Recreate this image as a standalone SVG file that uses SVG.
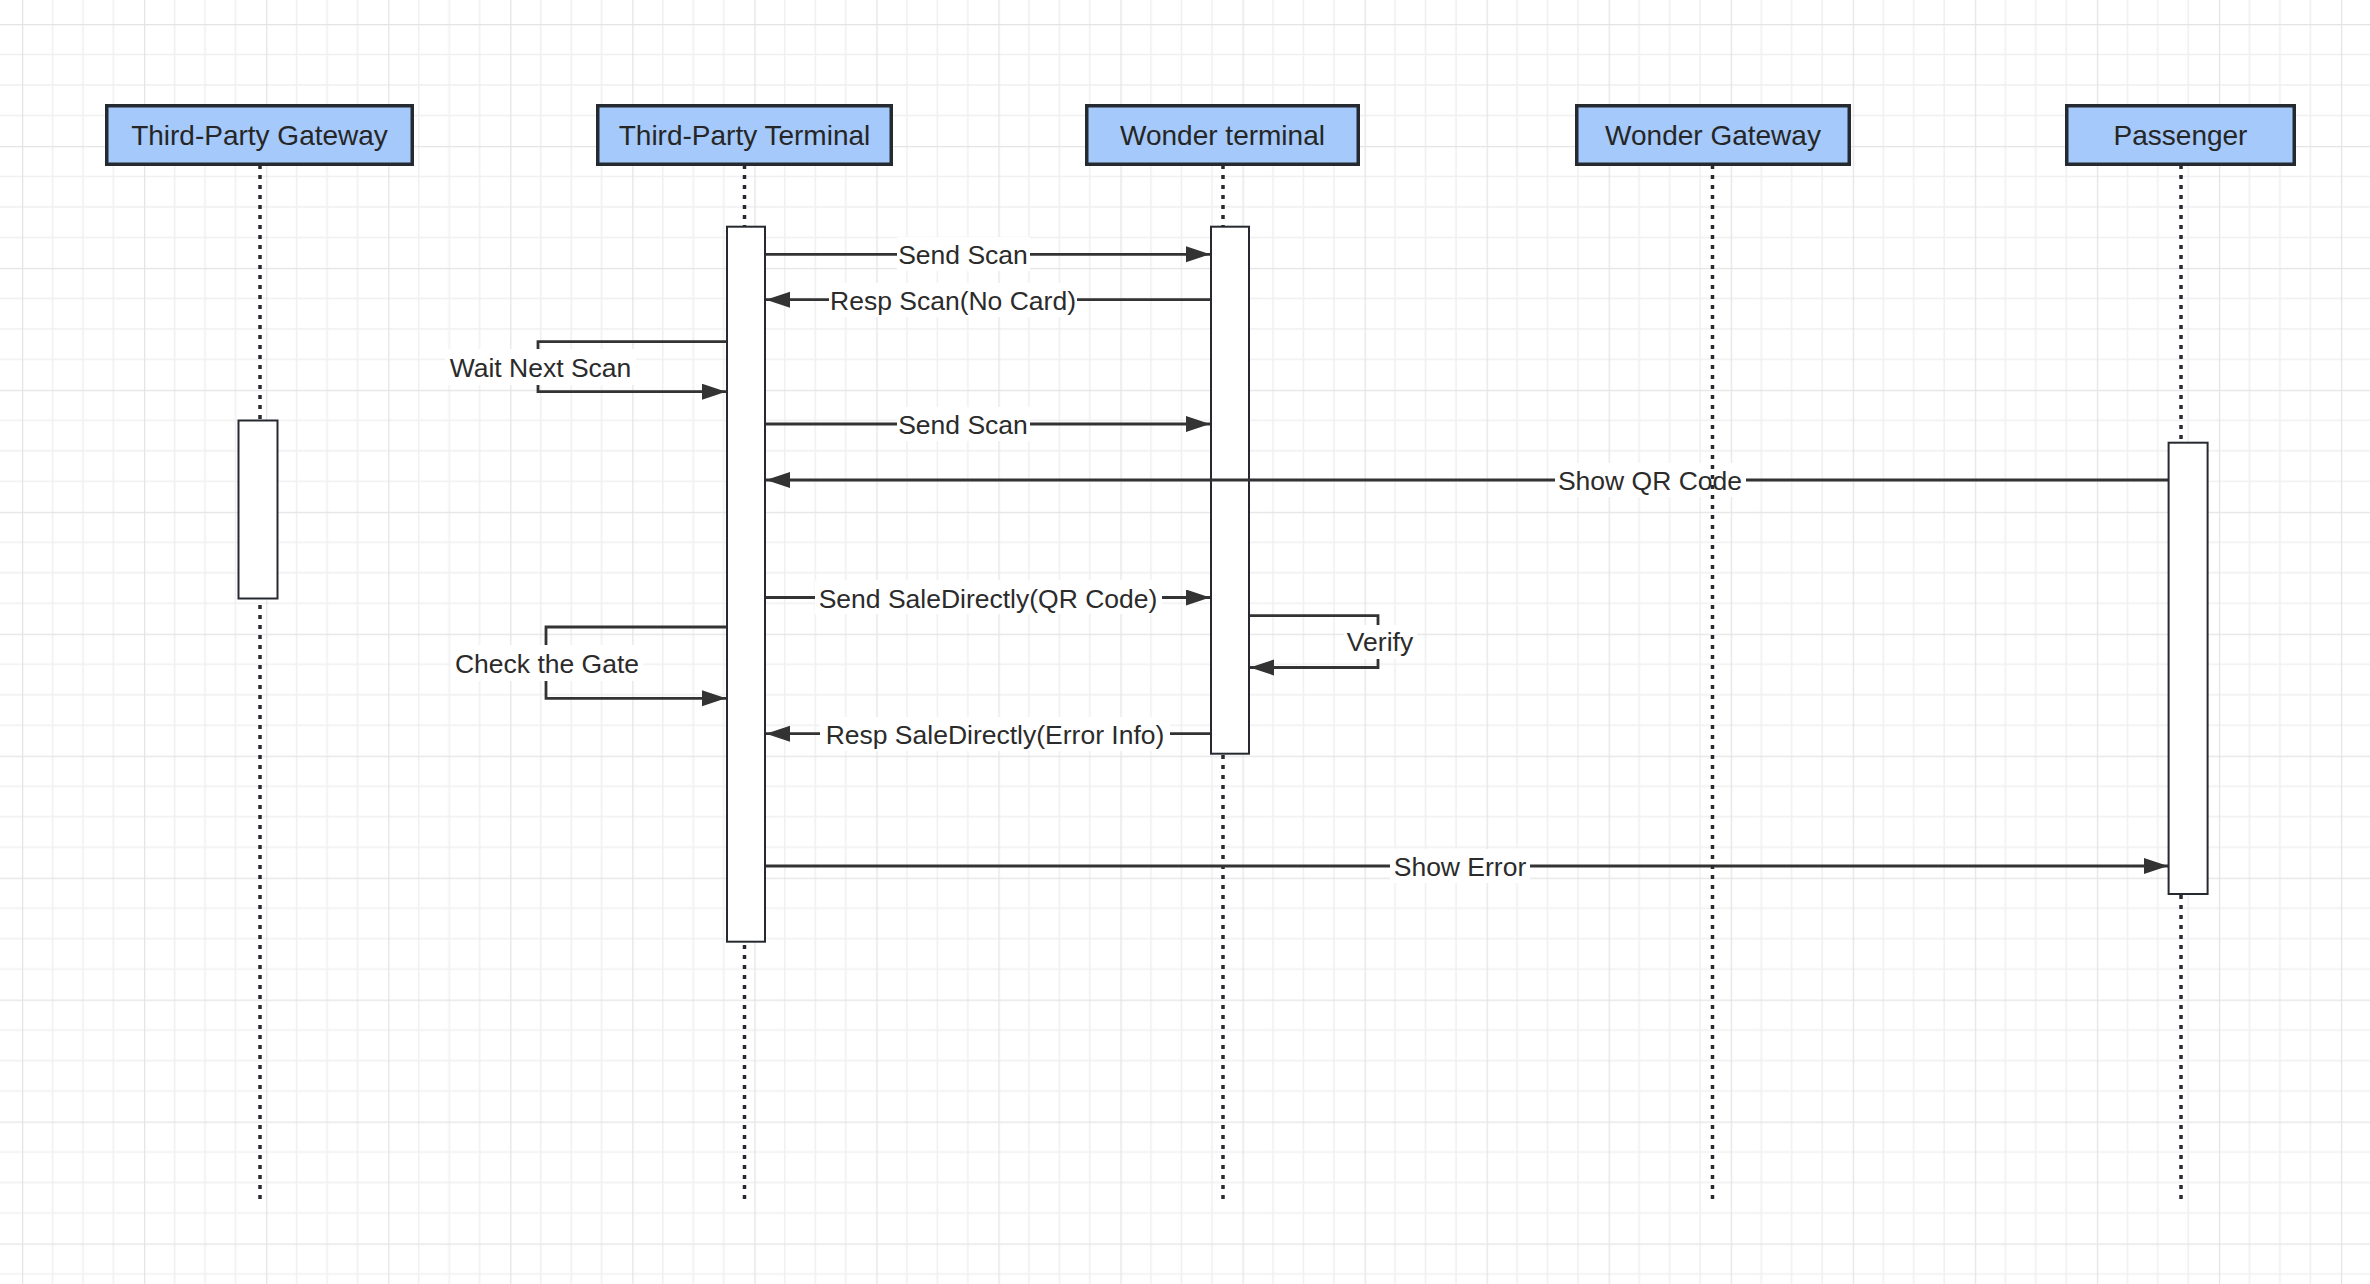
<svg xmlns="http://www.w3.org/2000/svg" width="2370" height="1284" viewBox="0 0 2370 1284">
  <style>
    .hdr { fill: #a4c9fa; stroke: #252a31; stroke-width: 3.5; }
    .hdrtxt { font-family: "Liberation Sans", Arial, sans-serif; font-size: 28px; fill: #262626; text-anchor: middle; }
    .life { stroke: #262a30; stroke-width: 3.5; stroke-dasharray: 4 6; fill: none; }
    .act { fill: #ffffff; stroke: #262a30; stroke-width: 2; }
    .msg { fill: none; stroke: #333333; stroke-width: 2.8; marker-end: url(#arrow); }
    .lblbg { fill: #ffffff; }
    .lbl { font-family: "Liberation Sans", Arial, sans-serif; font-size: 26.5px; fill: #2b2b2b; text-anchor: middle; }
  </style>
  <defs>
    <pattern id="grid" patternUnits="userSpaceOnUse" x="22" y="24" width="122.05" height="121.95">
      <rect width="122.05" height="121.95" fill="#ffffff"/>
      <path d="M30.5,0 V121.95 M61,0 V121.95 M91.5,0 V121.95 M0,30.5 H122.05 M0,61 H122.05 M0,91.5 H122.05" stroke="#f0f0f0" stroke-width="1.5" fill="none"/>
      <path d="M0,0 V121.95 M0,0 H122.05" stroke="#e4e4e4" stroke-width="2.5" fill="none"/>
    </pattern>
    <marker id="arrow" markerUnits="userSpaceOnUse" markerWidth="26" markerHeight="18" refX="24" refY="8" orient="auto">
      <path d="M0,0 L24,8 L0,16 z" fill="#333333"/>
    </marker>
  </defs>

  <rect x="0" y="0" width="2370" height="1284" fill="url(#grid)"/>

  <g id="node-third-party-gateway">
    <line class="life" x1="260" y1="165" x2="260" y2="1199"/>
    <rect class="hdr" x="106.75" y="105.75" width="305.5" height="58.5"/>
    <text class="hdrtxt" x="259.5" y="145">Third-Party Gateway</text>
    <rect class="act" x="238.5" y="420.5" width="39" height="178"/>
  </g>

  <g id="node-third-party-terminal">
    <line class="life" x1="744.5" y1="165" x2="744.5" y2="1199"/>
    <rect class="hdr" x="597.75" y="105.75" width="293.5" height="58.5"/>
    <text class="hdrtxt" x="744.5" y="145">Third-Party Terminal</text>
    <rect class="act" x="727" y="226.7" width="38" height="715"/>
  </g>

  <g id="node-wonder-terminal">
    <line class="life" x1="1223" y1="165" x2="1223" y2="1199"/>
    <rect class="hdr" x="1086.75" y="105.75" width="271.5" height="58.5"/>
    <text class="hdrtxt" x="1222.5" y="145">Wonder terminal</text>
    <rect class="act" x="1211" y="226.7" width="38" height="527"/>
  </g>

  <g id="connectors">
    <path class="msg" d="M766,254.3 H1210"/>
    <rect class="lblbg" x="897" y="237" width="133" height="34"/>
    <text class="lbl" x="963" y="264">Send Scan</text>

    <path class="msg" d="M1210,299.7 H766"/>
    <rect class="lblbg" x="829" y="283" width="248" height="34"/>
    <text class="lbl" x="953" y="310">Resp Scan(No Card)</text>

    <path class="msg" d="M726,341.7 H538 V391.7 H726"/>
    <rect class="lblbg" x="445" y="349" width="191" height="36"/>
    <text class="lbl" x="540.5" y="376.7">Wait Next Scan</text>

    <path class="msg" d="M766,424 H1210"/>
    <rect class="lblbg" x="897" y="407" width="133" height="34"/>
    <text class="lbl" x="963" y="434">Send Scan</text>

    <path class="msg" d="M2168,480 H766"/>
    <rect class="lblbg" x="1555" y="463" width="191" height="34"/>
    <text class="lbl" x="1650" y="490">Show QR Code</text>

    <path class="msg" d="M766,597.5 H1210"/>
    <rect class="lblbg" x="815" y="580" width="347" height="34"/>
    <text class="lbl" x="988" y="607.5">Send SaleDirectly(QR Code)</text>

    <path class="msg" d="M1250,615.7 H1378 V667.5 H1250"/>
    <rect class="lblbg" x="1344" y="625" width="73" height="34"/>
    <text class="lbl" x="1380" y="651">Verify</text>

    <path class="msg" d="M726,627 H546 V698.3 H726"/>
    <rect class="lblbg" x="451" y="645" width="192" height="36"/>
    <text class="lbl" x="547" y="672.7">Check the Gate</text>

    <path class="msg" d="M1210,733.7 H766"/>
    <rect class="lblbg" x="820" y="717" width="350" height="34"/>
    <text class="lbl" x="995" y="743.7">Resp SaleDirectly(Error Info)</text>

    <path class="msg" d="M766,866 H2168"/>
    <rect class="lblbg" x="1390" y="849" width="140" height="34"/>
    <text class="lbl" x="1460" y="876">Show Error</text>
  </g>

  <g id="node-wonder-gateway">
    <line class="life" x1="1712.5" y1="165" x2="1712.5" y2="1199"/>
    <rect class="hdr" x="1576.75" y="105.75" width="272.5" height="58.5"/>
    <text class="hdrtxt" x="1713" y="145">Wonder Gateway</text>
  </g>

  <g id="node-passenger">
    <line class="life" x1="2181" y1="165" x2="2181" y2="1199"/>
    <rect class="hdr" x="2066.75" y="105.75" width="227.5" height="58.5"/>
    <text class="hdrtxt" x="2180.5" y="145">Passenger</text>
    <rect class="act" x="2168.6" y="442.7" width="39" height="451.3"/>
  </g>
</svg>
